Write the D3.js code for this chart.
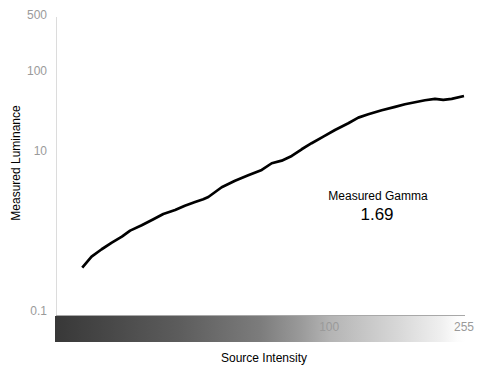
<!DOCTYPE html>
<html>
<head>
<meta charset="utf-8">
<script src="https://cdn.jsdelivr.net/npm/d3@7"></script>
<style>
  body { margin: 0; background: #fff; }
  text { font-family: "Liberation Sans", Arial, sans-serif; }
</style>
</head>
<body>
<div id="canvas"></div>
<script>
// source intensity (0-255) and measured luminance
const intensity = [18.0, 19.2, 20.6, 22.1, 23.7, 25.1, 27.2, 29.5, 31.6, 34.3, 36.7, 39.4, 41.7,
    43.2, 47.4, 52.0, 57.0, 62.6, 67.1, 71.9, 77.1, 82.6, 88.5, 96.0, 104.1, 114.2, 122.4,
    131.2, 144.0, 158.0, 169.2, 181.4, 194.5, 208.5, 220.8, 234.1, 255];
const luminance = [0.348, 0.477, 0.591, 0.714, 0.849, 1.01, 1.178, 1.40, 1.631, 1.83, 2.07, 2.30, 2.49,
    2.66, 3.52, 4.25, 4.97, 5.79, 7.02, 7.56, 8.66, 10.5, 12.5, 15.1, 18.3, 22.2, 26.1,
    28.7, 32.3, 35.5, 38.3, 40.6, 43.0, 44.7, 43.4, 44.7, 48.7];
const yTicks = [0.1, 10, 100, 500];
const xTicks = [100, 255];
const gamma = "1.69";

const width = 485;
const height = 375;

const svg = d3.select('#canvas').append("svg")
    .attr("width", width)
    .attr("height", height);

const x = d3.scaleLog()
    .domain([15, 255])
    .range([56, 464]);

const y = d3.scaleLog()
    .domain([0.1, 500])
    .range([311, 15]);

// vertical axis line
svg.append("line")
    .attr("x1", 56.5).attr("x2", 56.5)
    .attr("y1", 17).attr("y2", 315)
    .attr("stroke", "#dcdcdc");

svg.selectAll(".ytick")
    .data(yTicks)
    .enter().append("text")
    .attr("class", "ytick")
    .attr("x", 47)
    .attr("y", d => y(d))
    .attr("dy", "0.35em")
    .attr("text-anchor", "end")
    .attr("font-size", 12)
    .attr("fill", "#9a9a9a")
    .text(d => d);

// grey ramp along the bottom
const grad = svg.append("defs").append("linearGradient")
    .attr("id", "ramp")
    .attr("x1", "0%").attr("x2", "100%");
const stops = [[0, "#383838"], [0.3, "#5c5c5c"], [0.5, "#7c7c7c"], [0.6, "#9a9a9a"],
    [0.67, "#b4b4b4"], [0.84, "#d8d8d8"], [0.94, "#efefef"], [0.98, "#fcfcfc"], [1, "#ffffff"]];
grad.selectAll("stop")
    .data(stops)
    .enter().append("stop")
    .attr("offset", d => d[0])
    .attr("stop-color", d => d[1]);

svg.append("rect")
    .attr("x", 55)
    .attr("y", 316)
    .attr("width", x(255) + 1 - 55)
    .attr("height", 26)
    .attr("fill", "url(#ramp)");

svg.append("line")
    .attr("x1", 56).attr("x2", x(255) + 1)
    .attr("y1", 315.5).attr("y2", 315.5)
    .attr("stroke", "#a8a8a8");

svg.selectAll(".xtick")
    .data(xTicks)
    .enter().append("text")
    .attr("class", "xtick")
    .attr("x", d => x(d))
    .attr("y", 331)
    .attr("text-anchor", "middle")
    .attr("font-size", 12)
    .attr("fill", "#9a9a9a")
    .text(d => d);

// the measured curve
const points = intensity.map((d, i) => [d, luminance[i]]);
const line = d3.line()
    .x(d => x(d[0]))
    .y(d => y(d[1]));

svg.append("path")
    .datum(points)
    .attr("d", line)
    .attr("fill", "none")
    .attr("stroke", "#000")
    .attr("stroke-width", 2.7)
    .attr("stroke-linejoin", "round");

// axis titles
svg.append("text")
    .attr("transform", "translate(20, 163) rotate(-90)")
    .attr("text-anchor", "middle")
    .attr("font-size", 12)
    .attr("fill", "#000")
    .text("Measured Luminance");

svg.append("text")
    .attr("x", 264)
    .attr("y", 362)
    .attr("text-anchor", "middle")
    .attr("font-size", 12)
    .attr("fill", "#000")
    .text("Source Intensity");

// gamma readout
svg.append("text")
    .attr("x", 378)
    .attr("y", 200)
    .attr("text-anchor", "middle")
    .attr("font-size", 12)
    .attr("fill", "#000")
    .text("Measured Gamma");

svg.append("text")
    .attr("x", 377)
    .attr("y", 220)
    .attr("text-anchor", "middle")
    .attr("font-size", 17)
    .attr("fill", "#000")
    .text(gamma);
</script>
</body>
</html>
